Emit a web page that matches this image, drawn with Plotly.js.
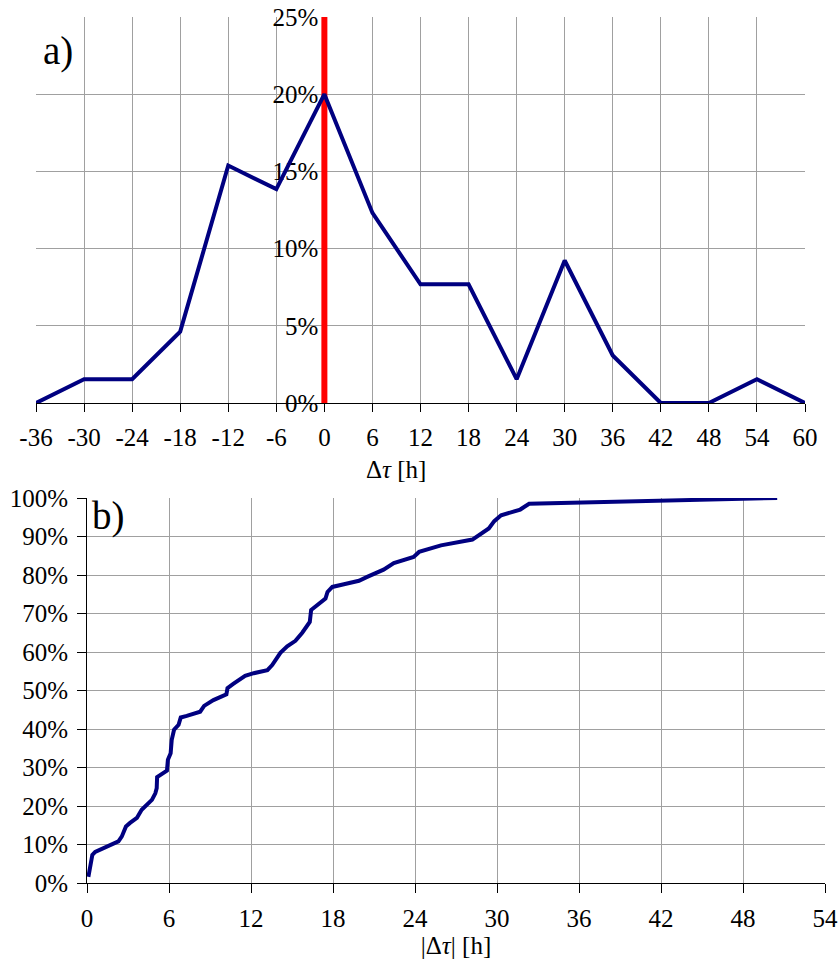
<!DOCTYPE html>
<html>
<head>
<meta charset="utf-8">
<script src="https://cdn.plot.ly/plotly-3.0.1.min.js"></script>
<style>html,body{margin:0;padding:0;background:#fff;}#chart{width:840px;height:961px;}</style>
</head>
<body>
<div id="chart"></div>
<script>
// ---- Panel a) : distribution of Δτ ----
const topX = [-36, -30, -24, -18, -12, -6, 0, 6, 12, 18, 24, 30, 36, 42, 48, 54, 60];
const topY = [0, 1.54, 1.54, 4.62, 15.38, 13.85, 20.0, 12.31, 7.69, 7.69, 1.54, 9.23, 3.08, 0, 0, 1.54, 0];
const topTickVals = [-36, -30, -24, -18, -12, -6, 0, 6, 12, 18, 24, 30, 36, 42, 48, 54, 60];
const topTickLabels = ['-36', '-30', '-24', '-18', '-12', '-6', '0', '6', '12', '18', '24', '30', '36', '42', '48', '54', '60'];
const refLineX = [0, 0];
const refLineY = [0, 25];

// ---- Panel b) : cumulative distribution of |Δτ| ----
const cdfX = [0.1, 0.22, 0.39, 0.6, 1.45, 2.3, 2.55, 2.85, 3.15, 3.65, 4.0, 4.4, 4.75, 5.0, 5.1, 5.13, 5.35, 5.85, 5.92, 6.12, 6.2, 6.37, 6.7, 6.86, 7.3, 8.28, 8.57, 9.25, 10.2, 10.28, 10.7, 11.57, 12.2, 13.2, 13.55, 14.15, 14.65, 15.25, 15.75, 16.3, 16.4, 16.7, 17.45, 17.6, 17.95, 18.8, 19.9, 20.5, 21.7, 22.45, 23.9, 24.3, 25.9, 28.2, 29.4, 29.8, 30.3, 31.7, 32.35, 50.5];
const cdfY = [1.6, 3.9, 7.3, 8.1, 9.5, 10.8, 12.1, 14.7, 15.6, 16.9, 19.0, 20.3, 21.6, 23.3, 24.6, 27.5, 28.1, 29.2, 32.0, 33.7, 37.2, 39.8, 41.1, 43.0, 43.4, 44.5, 46.0, 47.5, 49.0, 50.6, 51.7, 53.8, 54.5, 55.3, 56.6, 59.8, 61.5, 62.9, 65.0, 67.8, 70.9, 71.7, 73.9, 75.6, 76.9, 77.6, 78.5, 79.5, 81.4, 83.1, 84.7, 86.0, 87.7, 89.2, 92.1, 94.0, 95.5, 97.0, 98.5, 100];

const W = 840, H = 961;
const FONT = '"Liberation Serif", "Times New Roman", Times, serif';
const GRID = '#a0a0a0';
const NAVY = '#000080';

// plot-area pixel boxes
const topBox = {l: 36, r: 805, t: 17, b: 403};
const botBox = {l: 87, r: 825, t: 498, b: 883};
const dx = b => [b.l / W, b.r / W];
const dy = b => [1 - b.b / H, 1 - b.t / H];

const topRange = [-36, 60];
const topXDom = dx(topBox);
const yFreePos = topXDom[0] + (0 - topRange[0]) / (topRange[1] - topRange[0]) * (topXDom[1] - topXDom[0]);

const traces = [
  {x: refLineX, y: refLineY, xaxis: 'x', yaxis: 'y', mode: 'lines',
   line: {color: '#ff0000', width: 6}, hoverinfo: 'skip'},
  {x: topX, y: topY, xaxis: 'x', yaxis: 'y', mode: 'lines',
   line: {color: NAVY, width: 4}},
  {x: cdfX, y: cdfY, xaxis: 'x2', yaxis: 'y2', mode: 'lines',
   line: {color: NAVY, width: 4}}
];

const tickFont = {family: FONT, size: 25, color: '#000'};

const layout = {
  width: W, height: H,
  margin: {l: 0, r: 0, t: 0, b: 0},
  showlegend: false,
  paper_bgcolor: '#fff', plot_bgcolor: '#fff',
  font: {family: FONT, size: 25, color: '#000'},
  xaxis: {
    domain: topXDom, anchor: 'y', range: topRange,
    tickmode: 'array', tickvals: topTickVals, ticktext: topTickLabels, tickfont: tickFont,
    showgrid: true, gridcolor: GRID, gridwidth: 1, zeroline: false,
    showline: true, linecolor: '#000', linewidth: 1,
    ticks: 'outside', ticklen: 8, tickcolor: '#000', ticklabelstandoff: 4,
    layer: 'below traces', automargin: false
  },
  yaxis: {
    domain: dy(topBox), anchor: 'free', position: yFreePos,
    range: [0, 25], dtick: 5, ticksuffix: '%', tickfont: tickFont,
    showgrid: true, gridcolor: GRID, gridwidth: 1, zeroline: false,
    showline: false, ticks: '', ticklabelstandoff: 6,
    layer: 'below traces', automargin: false
  },
  xaxis2: {
    domain: dx(botBox), anchor: 'y2', range: [0, 54], dtick: 6, tickfont: tickFont,
    showgrid: true, gridcolor: GRID, gridwidth: 1, zeroline: false,
    showline: true, linecolor: '#000', linewidth: 1,
    ticks: 'outside', ticklen: 9, tickcolor: '#000', ticklabelstandoff: 4,
    title: {text: '|Δ<i>τ</i>| [h]', font: {family: FONT, size: 25, color: '#000'}, standoff: 4},
    layer: 'below traces', automargin: false
  },
  yaxis2: {
    domain: dy(botBox), anchor: 'x2', range: [0, 100], dtick: 10, ticksuffix: '%', tickfont: tickFont,
    showgrid: true, gridcolor: GRID, gridwidth: 1, zeroline: false,
    showline: true, linecolor: '#000', linewidth: 1,
    ticks: 'outside', ticklen: 9, tickcolor: '#000', ticklabelstandoff: 4,
    layer: 'below traces', automargin: false
  },
  annotations: [
    {text: 'Δ<i>τ</i> [h]', xref: 'paper', yref: 'paper', x: 396 / W, y: 1 - 469 / H,
     xanchor: 'center', yanchor: 'middle', showarrow: false, font: {family: FONT, size: 25, color: '#000'}},
    {text: 'a)', xref: 'paper', yref: 'paper', x: 41 / W, y: 1 - 51 / H,
     xanchor: 'left', yanchor: 'middle', showarrow: false, font: {family: FONT, size: 39, color: '#000'}},
    {text: 'b)', xref: 'paper', yref: 'paper', x: 90 / W, y: 1 - 516 / H,
     xanchor: 'left', yanchor: 'middle', showarrow: false, font: {family: FONT, size: 39, color: '#000'}}
  ]
};

Plotly.newPlot('chart', traces, layout, {staticPlot: true, displayModeBar: false});
</script>
</body>
</html>
